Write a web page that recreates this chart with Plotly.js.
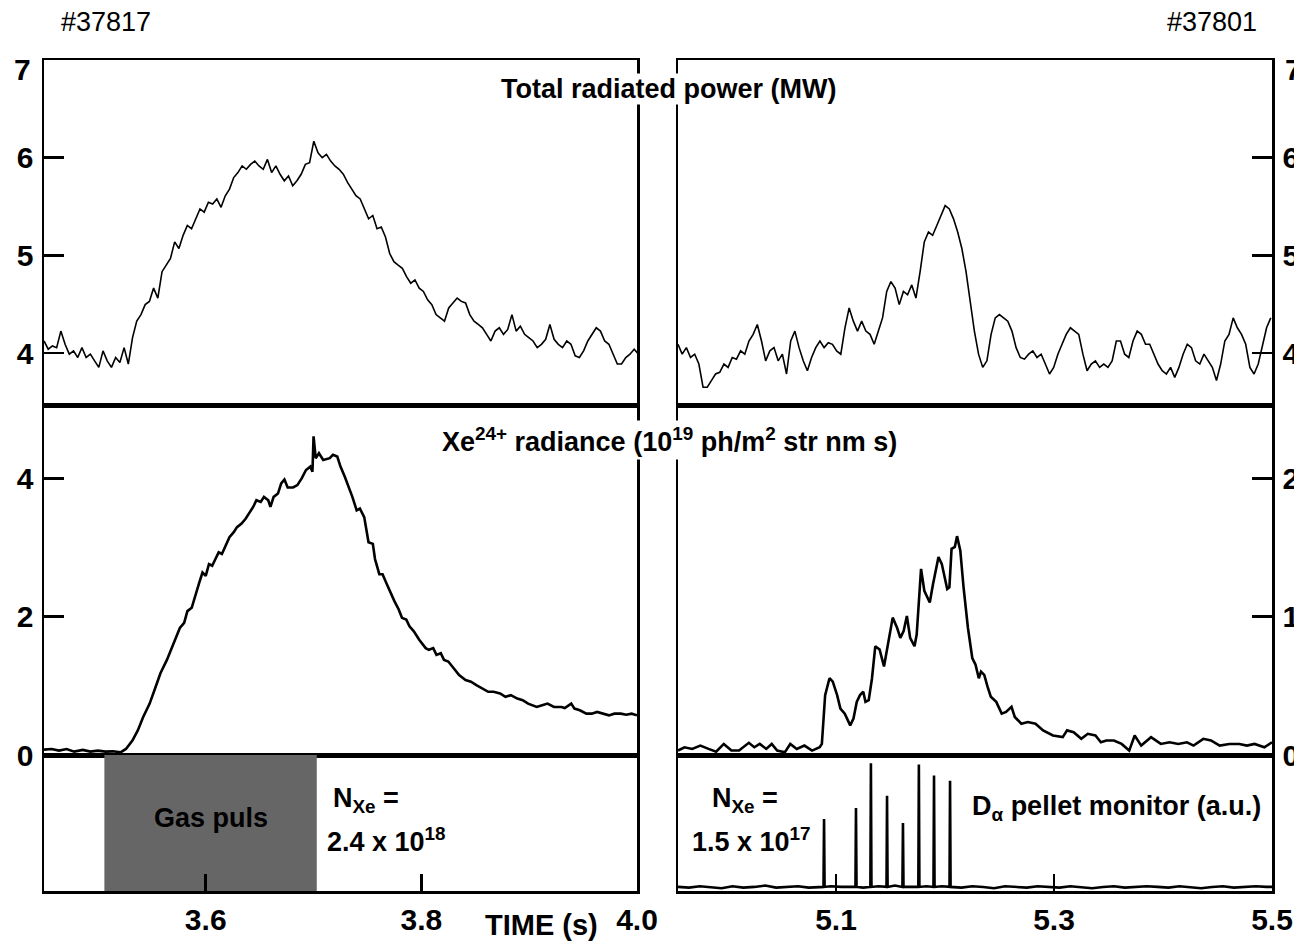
<!DOCTYPE html>
<html>
<head>
<meta charset="utf-8">
<script src="https://cdn.plot.ly/plotly-3.0.1.min.js"></script>
<style>html,body{margin:0;padding:0;background:#fff;}#chart{width:1294px;height:949px;}</style>
</head>
<body>
<div id="chart"></div>
<script>
// ---------------- DATA ----------------
// Shot #37817 (gas puff) : total radiated power, sampled from t0 with step dt
const leftPowerT0 = 3.45;
const leftPowerDt = 0.00391;
const leftPower = [4.125,4.041,4.074,4.057,4.226,4.091,3.990,4.024,3.956,4.057,3.956,3.990,3.922,3.855,4.024,3.922,3.855,3.956,3.905,4.057,3.889,4.159,4.328,4.395,4.497,4.530,4.666,4.564,4.834,4.902,4.970,5.139,5.071,5.206,5.307,5.274,5.375,5.476,5.443,5.544,5.527,5.578,5.493,5.611,5.679,5.797,5.848,5.916,5.882,5.932,5.966,5.916,5.882,5.983,5.848,5.916,5.831,5.764,5.814,5.713,5.764,5.831,5.932,5.949,6.169,6.051,6.000,6.034,5.966,5.916,5.882,5.831,5.747,5.679,5.611,5.578,5.476,5.375,5.409,5.274,5.291,5.189,5.020,4.936,4.902,4.868,4.784,4.716,4.750,4.666,4.632,4.547,4.497,4.395,4.361,4.328,4.463,4.514,4.564,4.530,4.514,4.395,4.328,4.294,4.260,4.193,4.125,4.226,4.260,4.193,4.243,4.395,4.226,4.277,4.193,4.159,4.125,4.057,4.091,4.142,4.294,4.142,4.091,4.057,4.125,4.091,3.973,3.956,4.024,4.125,4.193,4.260,4.226,4.125,4.091,3.990,3.889,3.889,3.956,3.990,4.041,3.990];

// Shot #37817 : Xe24+ radiance
const leftXeT = [3.450,3.457,3.464,3.471,3.478,3.486,3.493,3.500,3.507,3.514,3.521,3.526,3.532,3.537,3.542,3.548,3.553,3.558,3.564,3.569,3.573,3.576,3.580,3.583,3.587,3.590,3.594,3.597,3.600,3.603,3.606,3.609,3.612,3.615,3.619,3.622,3.626,3.629,3.633,3.637,3.640,3.644,3.647,3.651,3.654,3.658,3.660,3.663,3.667,3.670,3.673,3.676,3.681,3.685,3.689,3.693,3.697,3.699,3.700,3.702,3.705,3.709,3.715,3.718,3.722,3.725,3.729,3.732,3.736,3.740,3.743,3.747,3.749,3.751,3.755,3.757,3.761,3.764,3.768,3.772,3.775,3.779,3.782,3.786,3.789,3.793,3.798,3.804,3.807,3.811,3.814,3.818,3.821,3.825,3.830,3.835,3.841,3.846,3.851,3.857,3.862,3.867,3.873,3.878,3.883,3.889,3.894,3.899,3.907,3.912,3.917,3.923,3.930,3.933,3.939,3.942,3.947,3.953,3.958,3.963,3.969,3.974,3.979,3.985,3.990,3.995,4.000];
const leftXe = [0.078,0.087,0.063,0.087,0.049,0.073,0.049,0.063,0.049,0.053,0.039,0.087,0.209,0.355,0.549,0.743,0.962,1.181,1.375,1.569,1.715,1.837,1.910,2.080,2.128,2.298,2.493,2.638,2.590,2.760,2.736,2.833,2.930,2.906,3.052,3.149,3.222,3.294,3.343,3.416,3.489,3.586,3.683,3.659,3.732,3.683,3.586,3.732,3.780,3.926,3.984,3.868,3.868,3.902,3.999,4.120,4.169,4.096,4.606,4.291,4.363,4.266,4.291,4.339,4.315,4.169,4.023,3.902,3.732,3.537,3.562,3.440,3.246,3.076,3.052,2.833,2.614,2.614,2.468,2.323,2.225,2.104,1.983,1.958,1.861,1.788,1.667,1.545,1.521,1.545,1.448,1.472,1.375,1.351,1.254,1.156,1.084,1.059,1.011,0.962,0.914,0.914,0.889,0.841,0.865,0.816,0.792,0.743,0.695,0.719,0.743,0.695,0.695,0.680,0.743,0.671,0.646,0.598,0.598,0.622,0.598,0.573,0.598,0.598,0.583,0.598,0.573];

// Shot #37817 : Xe gas puff (start, end)
const gasPuff = [3.506, 3.703];

// Shot #37801 (pellets) : total radiated power, sampled from t0 with step dt
const rightPowerT0 = 4.955;
const rightPowerDt = 0.00383;
const rightPower = [4.091,3.990,4.057,3.956,3.990,3.889,3.652,3.652,3.720,3.787,3.804,3.889,3.855,3.956,3.939,4.024,3.990,4.125,4.193,4.294,4.125,3.922,4.024,4.057,3.922,3.990,3.787,4.125,4.226,4.057,3.922,3.821,3.956,4.057,4.125,4.057,4.108,4.091,4.024,3.990,4.260,4.463,4.328,4.226,4.328,4.226,4.193,4.091,4.226,4.361,4.632,4.733,4.666,4.497,4.632,4.598,4.699,4.564,4.834,5.139,5.240,5.206,5.307,5.409,5.510,5.476,5.375,5.240,5.071,4.834,4.530,4.226,3.990,3.855,3.922,4.193,4.361,4.395,4.361,4.328,4.226,4.057,3.956,3.939,3.990,4.024,3.956,3.990,3.889,3.787,3.855,3.990,4.091,4.193,4.260,4.226,4.193,3.990,3.821,3.889,3.922,3.855,3.889,3.855,3.922,4.125,4.125,3.990,3.956,4.125,4.226,4.193,4.091,4.091,3.990,3.889,3.821,3.787,3.855,3.753,3.855,3.990,4.091,4.057,3.922,3.889,3.990,3.922,3.855,3.720,3.889,4.125,4.193,4.361,4.260,4.193,4.091,3.855,3.787,3.889,4.091,4.260,4.361];

// Shot #37801 : Xe24+ radiance
const rightXeT = [4.955,4.961,4.968,4.9755,4.983,4.990,4.997,5.004,5.011,5.020,5.025,5.030,5.036,5.041,5.046,5.053,5.058,5.064,5.071,5.078,5.085,5.087,5.090,5.094,5.097,5.101,5.104,5.108,5.113,5.116,5.119,5.122,5.125,5.127,5.130,5.133,5.136,5.140,5.144,5.149,5.152,5.156,5.159,5.162,5.165,5.168,5.172,5.174,5.178,5.181,5.186,5.189,5.194,5.197,5.202,5.204,5.206,5.209,5.211,5.214,5.217,5.221,5.225,5.228,5.231,5.233,5.236,5.239,5.242,5.247,5.252,5.256,5.261,5.264,5.270,5.276,5.283,5.290,5.299,5.308,5.312,5.318,5.325,5.331,5.338,5.343,5.348,5.355,5.362,5.369,5.374,5.380,5.389,5.398,5.406,5.414,5.422,5.428,5.437,5.444,5.452,5.461,5.470,5.477,5.484,5.493,5.500];
const rightXe = [0.032,0.056,0.044,0.068,0.044,0.024,0.080,0.032,0.032,0.088,0.056,0.080,0.044,0.080,0.032,0.019,0.080,0.044,0.068,0.032,0.056,0.080,0.433,0.555,0.530,0.433,0.336,0.299,0.214,0.263,0.384,0.433,0.457,0.384,0.397,0.555,0.786,0.762,0.640,0.847,0.993,0.920,0.847,0.895,1.005,0.847,0.786,0.871,1.345,1.187,1.102,1.236,1.431,1.382,1.200,1.212,1.491,1.504,1.582,1.479,1.212,0.920,0.701,0.652,0.555,0.603,0.579,0.494,0.421,0.384,0.299,0.311,0.348,0.275,0.226,0.238,0.226,0.178,0.141,0.129,0.178,0.165,0.117,0.153,0.141,0.092,0.105,0.105,0.080,0.032,0.141,0.068,0.129,0.080,0.092,0.080,0.092,0.068,0.117,0.105,0.068,0.080,0.080,0.068,0.080,0.056,0.092];

// Shot #37801 : D-alpha pellet monitor (a.u.)
const pelletT = [4.955,4.965,4.975,4.985,4.995,5.005,5.015,5.025,5.035,5.045,5.055,5.065,5.075,5.0855,
  5.0885,5.089,5.0895,5.095,5.105,
  5.1178,5.1183,5.1188,5.125,
  5.1315,5.132,5.1325,5.139,
  5.1463,5.1468,5.1473,5.154,
  5.1609,5.1614,5.1619,5.168,
  5.1755,5.176,5.1765,5.183,
  5.1894,5.1899,5.1904,5.197,
  5.2041,5.2046,5.2051,
  5.215,5.225,5.235,5.245,5.255,5.265,5.275,5.285,5.295,5.305,5.315,5.325,5.335,5.345,5.355,5.365,5.375,5.385,5.395,5.405,5.415,5.425,5.435,5.445,5.455,5.465,5.475,5.485,5.495,5.5];
const pelletV = [0.03,0.025,0.035,0.03,0.02,0.035,0.025,0.03,0.04,0.025,0.03,0.035,0.025,0.03,
  0.03,0.53,0.03,0.035,0.03,
  0.03,0.61,0.03,0.025,
  0.03,0.94,0.03,0.035,
  0.03,0.70,0.03,0.04,
  0.03,0.50,0.03,0.03,
  0.03,0.93,0.03,0.035,
  0.03,0.85,0.03,0.035,
  0.03,0.81,0.03,
  0.025,0.035,0.03,0.02,0.035,0.03,0.025,0.035,0.03,0.025,0.035,0.03,0.02,0.03,0.035,0.025,0.03,0.035,0.03,0.025,0.035,0.03,0.02,0.03,0.035,0.025,0.03,0.035,0.03,0.03];

// Axis ranges and tick labels
const leftRange = [3.45, 4.0];
const rightRange = [4.955, 5.5];
const powerRange = [3.47, 7.0];
const powerTicks = [4, 5, 6, 7];
const powerTickLabels = ["4", "5", "6", ""];   // the "7" label sits just below the frame corner
const powerTopLabel = "7";
const leftXeRange = [0, 5.06];
const leftXeTicks = [0, 2, 4];
const rightXeRange = [0, 2.53];
const rightXeTicks = [0, 1, 2];
const leftTimeTicks = [3.6, 3.8, 4.0];
const leftTimeLabels = ["3.6", "3.8", "4.0"];
const rightTimeTicks = [5.1, 5.3, 5.5];
const rightTimeLabels = ["5.1", "5.3", "5.5"];

// ---------------- STYLE ----------------
const FONT = "'Liberation Sans', Arial, sans-serif";
const W = 1294, H = 949;
const px = v => v / W;
const py = v => 1 - v / H;
const xL = [px(44), px(637)];
const xR = [px(678), px(1272)];
const yTop = [py(405), py(60)];
const yMid = [py(755), py(405)];
const yBot = [py(891), py(755)];
const LW = 2.5;
const tickFont = {family: FONT, size: 30, color: '#000', weight: 'bold'};

function xa(domain, range, anchor, opts) {
  return Object.assign({
    domain, range, anchor, showline: true, mirror: true, linewidth: LW, linecolor: '#000',
    showgrid: false, zeroline: false, showticklabels: false, ticks: '', fixedrange: true
  }, opts || {});
}
function ya(domain, range, anchor, opts) {
  return Object.assign({
    domain, range, anchor, showline: true, mirror: true, linewidth: LW, linecolor: '#000',
    showgrid: false, zeroline: false, ticks: 'inside', ticklen: 20, tickwidth: LW, tickcolor: '#000',
    tickfont: tickFont, ticklabelstandoff: 2, fixedrange: true
  }, opts || {});
}

const traces = [
  {x0: leftPowerT0, dx: leftPowerDt, y: leftPower, xaxis: 'x', yaxis: 'y', type: 'scatter', mode: 'lines',
   line: {color: '#000', width: 1.6}},
  {x: leftXeT, y: leftXe, xaxis: 'x2', yaxis: 'y2', type: 'scatter', mode: 'lines',
   line: {color: '#000', width: 2.6}},
  {x: [gasPuff[0], gasPuff[0], gasPuff[1], gasPuff[1]], y: [0, 1, 1, 0], xaxis: 'x3', yaxis: 'y3',
   type: 'scatter', mode: 'lines', fill: 'toself', fillcolor: '#666666', line: {width: 0, color: '#666666'}},
  {x0: rightPowerT0, dx: rightPowerDt, y: rightPower, xaxis: 'x4', yaxis: 'y4', type: 'scatter', mode: 'lines',
   line: {color: '#000', width: 1.6}},
  {x: rightXeT, y: rightXe, xaxis: 'x5', yaxis: 'y5', type: 'scatter', mode: 'lines',
   line: {color: '#000', width: 2.6}},
  {x: pelletT, y: pelletV, xaxis: 'x6', yaxis: 'y6', type: 'scatter', mode: 'lines',
   line: {color: '#000', width: 2.6}}
];

const annFont = {family: FONT, size: 27, color: '#000', weight: 'bold'};
function ann(text, x, y, extra) {
  return Object.assign({text, x: px(x), y: py(y), xref: 'paper', yref: 'paper', showarrow: false,
    font: annFont, xanchor: 'center', yanchor: 'middle'}, extra || {});
}

const layout = {
  width: W, height: H, margin: {l: 0, r: 0, t: 0, b: 0},
  paper_bgcolor: '#fff', plot_bgcolor: '#fff', showlegend: false,
  xaxis: xa(xL, leftRange, 'y'),
  yaxis: ya(yTop, powerRange, 'x', {tickvals: powerTicks, ticktext: powerTickLabels}),
  xaxis2: xa(xL, leftRange, 'y2'),
  yaxis2: ya(yMid, leftXeRange, 'x2', {tickvals: leftXeTicks}),
  xaxis3: xa(xL, leftRange, 'y3', {showticklabels: true, ticks: 'inside', ticklen: 17, tickwidth: LW,
    tickcolor: '#000', tickvals: leftTimeTicks, ticktext: leftTimeLabels, tickfont: tickFont, ticklabelstandoff: 0}),
  yaxis3: ya(yBot, [0, 1], 'x3', {ticks: '', showticklabels: false}),
  xaxis4: xa(xR, rightRange, 'y4'),
  yaxis4: ya(yTop, powerRange, 'x4', {side: 'right', tickvals: powerTicks, ticktext: powerTickLabels}),
  xaxis5: xa(xR, rightRange, 'y5'),
  yaxis5: ya(yMid, rightXeRange, 'x5', {side: 'right', tickvals: rightXeTicks}),
  xaxis6: xa(xR, rightRange, 'y6', {showticklabels: true, ticks: 'inside', ticklen: 17, tickwidth: LW,
    tickcolor: '#000', tickvals: rightTimeTicks, ticktext: rightTimeLabels, tickfont: tickFont, ticklabelstandoff: 0}),
  yaxis6: ya(yBot, [0, 1], 'x6', {ticks: '', showticklabels: false}),
  annotations: [
    ann('#37817', 106, 22, {font: {family: FONT, size: 27, color: '#000'}}),
    ann('#37801', 1212, 22, {font: {family: FONT, size: 27, color: '#000'}}),
    ann(powerTopLabel, 33, 69, {xanchor: 'right', font: tickFont}),
    ann(powerTopLabel, 1283, 70, {xanchor: 'left', font: tickFont}),
    ann('Total radiated power (MW)', 669, 89, {bgcolor: '#fff', borderpad: 0}),
    ann('Xe<sup>24+</sup> radiance (10<sup>19</sup> ph/m<sup>2</sup> str nm s)', 669, 440, {bgcolor: '#fff', borderpad: 2}),
    ann('Gas puls', 211, 818),
    ann('N<sub>Xe</sub> =', 366, 800),
    ann('2.4 x 10<sup>18</sup>', 386, 840),
    ann('N<sub>Xe</sub> =', 745, 800),
    ann('1.5 x 10<sup>17</sup>', 751, 840),
    ann('D<sub>α</sub> pellet monitor (a.u.)', 1116, 808),
    ann('TIME (s)', 541, 925, {font: {family: FONT, size: 29, color: '#000', weight: 'bold'}})
  ]
};

Plotly.newPlot('chart', traces, layout, {staticPlot: true, displayModeBar: false});
</script>
</body>
</html>
